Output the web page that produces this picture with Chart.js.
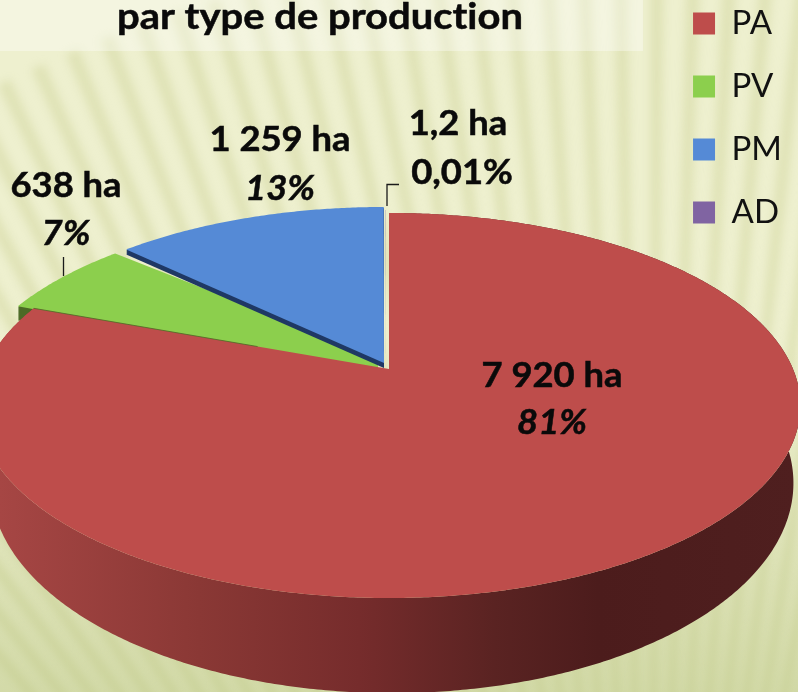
<!DOCTYPE html>
<html>
<head>
<meta charset="utf-8">
<script src="https://cdn.jsdelivr.net/npm/chart.js@4"></script>
<style>
  html, body { margin: 0; padding: 0; background: #eef0cf; overflow: hidden; }
  canvas { display: block; }
</style>
</head>
<body>
<canvas id="graphique" width="798" height="692"></canvas>
<script>
const titre = 'par type de production';
const types = ['PA', 'PV', 'PM', 'AD'];
const surfaces = [7920, 638, 1259, 1.2];
const surfacesTexte = ['7 920 ha', '638 ha', '1 259 ha', '1,2 ha'];
const pourcentages = ['81%', '7%', '13%', '0,01%'];
const couleurs = ['#be4d4b', '#8ccf4d', '#558ad6', '#8064a2'];

// ou vont les textes, et le centre de chaque part (les parts sont un peu decalees)
const placeTextes = [[552, 387, 434], [66, 197, 245], [280, 151, 200], [458, 135, 184]];
const centres = [[389, 369], [373, 367], [384, 363], [386, 366]];
// la pointe de PV est cachee sous PA et PM, on la prend large pour ne pas laisser de trou
const pointePV = [[378, 357], [378, 373]];
const cotes = [null, ['#4c6a26', 14], ['#1f3864', 5], ['#5a4672', 0]];

// perspective du disque
const persp = { a: 404, b: 185.6, k: 0.1896 };
// ellipse du bas du cylindre, par rapport a celle du dessus
const haut = { x: 389, y: 404.5, rx: 410, ry: 192.5 };
const bas = { x: 392, y: 482, rx: 400, ry: 210 };

function projeter(angle, c) {
  var u = Math.cos(angle), v = Math.sin(angle), w = 1 - persp.k * v;
  return [c[0] + persp.a * u / w, c[1] + persp.b * v / w];
}

function pointsArc(el, c) {
  var pts = [], n = Math.max(2, Math.ceil((el.endAngle - el.startAngle) * 120));
  for (var i = 0; i <= n; i++) {
    pts.push(projeter(el.startAngle + (el.endAngle - el.startAngle) * i / n, c));
  }
  return pts;
}

function tracer(ctx, pts) {
  ctx.beginPath();
  pts.forEach(function (p, i) { i ? ctx.lineTo(p[0], p[1]) : ctx.moveTo(p[0], p[1]); });
  ctx.closePath();
}

function dessinerFond(chart) {
  var ctx = chart.ctx, ox = 650, oy = 1436;
  ctx.save();
  ctx.fillStyle = '#eef0cf';
  ctx.fillRect(0, 0, 798, 692);
  ctx.filter = 'blur(4px)';
  ctx.fillStyle = 'rgba(205,210,150,0.42)';
  for (var a = -0.7; a < 0.35; a += 0.025) {
    ctx.beginPath();
    ctx.moveTo(ox, oy);
    ctx.lineTo(ox + 1500 * Math.sin(a), oy - 1500 * Math.cos(a));
    ctx.lineTo(ox + 1500 * Math.sin(a + 0.0095), oy - 1500 * Math.cos(a + 0.0095));
    ctx.closePath();
    ctx.fill();
  }
  ctx.filter = 'none';
  var g = ctx.createLinearGradient(0, 350, 0, 692);
  g.addColorStop(0, 'rgba(170,185,110,0)');
  g.addColorStop(1, 'rgba(170,185,110,0.4)');
  ctx.fillStyle = g;
  ctx.fillRect(0, 350, 798, 342);
  ctx.fillStyle = 'rgba(255,255,255,0.35)';
  ctx.fillRect(0, 0, 643, 51);
  ctx.restore();
}

function dessinerParts(chart) {
  var ctx = chart.ctx, arcs = chart.getDatasetMeta(0).data;
  // PV, AD, PM puis PA par dessus
  [1, 3, 2, 0].forEach(function (i) {
    var c = centres[i], pts = pointsArc(arcs[i], c);
    var forme = i === 1 ? pts.concat(pointePV) : [c].concat(pts);
    if (i === 0) {
      var g = ctx.createLinearGradient(0, 0, 798, 0);
      g.addColorStop(0, '#a64644');
      g.addColorStop(0.25, '#8a3835');
      g.addColorStop(0.45, '#762c2c');
      g.addColorStop(0.62, '#5a2322');
      g.addColorStop(0.75, '#4c1c1c');
      g.addColorStop(1, '#4f1f1f');
      var dessous = pts.map(function (p) {
        return [bas.x + (p[0] - haut.x) * bas.rx / haut.rx, bas.y + (p[1] - haut.y) * bas.ry / haut.ry];
      }).reverse();
      tracer(ctx, pts.concat(dessous));
      ctx.fillStyle = g;
      ctx.fill();
    } else {
      // epaisseur de la part : la meme forme descendue pixel par pixel
      ctx.fillStyle = cotes[i][0];
      for (var d = 1; d <= cotes[i][1]; d++) {
        tracer(ctx, forme.map(function (p) { return [p[0], p[1] + d]; }));
        ctx.fill();
      }
    }
    tracer(ctx, forme);
    ctx.fillStyle = couleurs[i];
    ctx.fill();
    if (i === 0) {
      // filet sombre entre PA et PV
      var bord = pts[pts.length - 1];
      ctx.strokeStyle = 'rgba(76,106,38,0.8)';
      ctx.lineWidth = 1;
      ctx.beginPath();
      ctx.moveTo(bord[0], bord[1]);
      ctx.lineTo(bord[0] + (c[0] - bord[0]) * 0.63, bord[1] + (c[1] - bord[1]) * 0.63);
      ctx.stroke();
    }
  });
}

// le texte de la reference est un peu etire en largeur
function texte(ctx, t, x, y, etire) {
  ctx.save();
  ctx.translate(x, y);
  ctx.scale(etire, 1);
  ctx.lineWidth = 0.5;
  ctx.strokeStyle = '#0a0a0a';
  ctx.strokeText(t, 0, 0);
  ctx.fillText(t, 0, 0);
  ctx.restore();
}

function dessinerTextes(chart) {
  var ctx = chart.ctx;
  ctx.save();
  ctx.fillStyle = '#0a0a0a';
  ctx.textAlign = 'center';
  ctx.textBaseline = 'alphabetic';
  ctx.textRendering = 'optimizeSpeed';
  ctx.font = 'bold 37px Lato';
  texte(ctx, titre, 320, 29, 1.08);
  surfacesTexte.forEach(function (t, i) {
    var p = placeTextes[i];
    ctx.font = 'bold 34px Lato';
    texte(ctx, t, p[0], p[1], 1.07);
    ctx.font = (i === 3 ? '' : 'italic ') + 'bold 34px Lato';
    texte(ctx, pourcentages[i], p[0] + (i === 3 ? 4 : 0), p[2], 1.07);
  });
  // traits de rappel
  ctx.strokeStyle = '#1a1a1a';
  ctx.lineWidth = 1.3;
  ctx.beginPath();
  ctx.moveTo(63.5, 257); ctx.lineTo(63.5, 276);
  ctx.moveTo(387, 206); ctx.lineTo(387, 184.5); ctx.lineTo(399, 184.5);
  ctx.stroke();
  ctx.restore();
}

const piePerspective = {
  id: 'piePerspective',
  beforeDraw: dessinerFond,
  beforeDatasetDraw: function (chart) {
    dessinerParts(chart);
    return false;
  },
  afterDraw: dessinerTextes
};

new Chart(document.getElementById('graphique'), {
  type: 'pie',
  data: {
    labels: types,
    datasets: [{ data: surfaces, backgroundColor: couleurs, borderWidth: 0 }]
  },
  options: {
    responsive: false,
    animation: false,
    layout: { padding: { top: -23, right: 6 } },
    plugins: {
      tooltip: { enabled: false },
      legend: {
        position: 'right',
        align: 'start',
        labels: {
          boxWidth: 22,
          boxHeight: 22,
          padding: 30,
          color: '#111',
          font: { family: 'Lato', size: 33 }
        }
      }
    }
  },
  plugins: [piePerspective]
});
</script>
</body>
</html>
